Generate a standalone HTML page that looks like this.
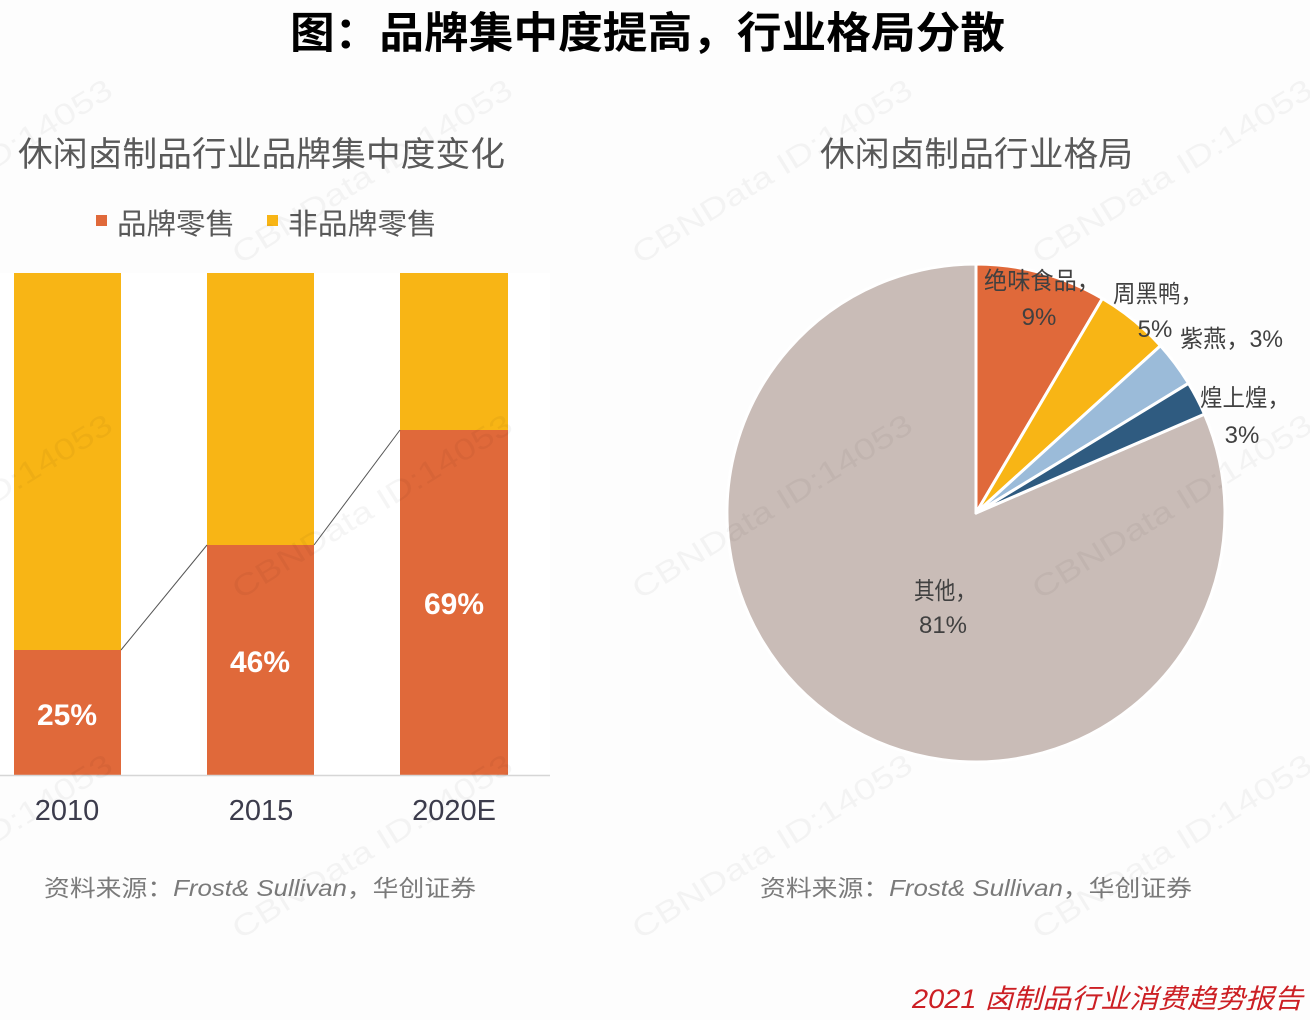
<!DOCTYPE html>
<html>
<head>
<meta charset="utf-8">
<style>
  html, body { margin:0; padding:0; background:#fdfdfd; }
  svg { display:block; }
  .cjk { font-family: "Liberation Sans", "Noto Sans CJK SC", sans-serif; }
</style>
</head>
<body>
<svg width="1310" height="1020" viewBox="0 0 1310 1020" xmlns="http://www.w3.org/2000/svg" class="cjk">
  <rect x="0" y="0" width="1310" height="1020" fill="#fdfdfd"/>

  <!-- Main title -->
  <text x="290" y="48" font-size="43" font-weight="bold" fill="#000" textLength="715" lengthAdjust="spacingAndGlyphs" font-family="'Liberation Sans','Noto Sans CJK SC',sans-serif">图：品牌集中度提高，行业格局分散</text>

  <!-- Left chart title -->
  <text x="18" y="166" font-size="34" fill="#595959" textLength="487" lengthAdjust="spacingAndGlyphs">休闲卤制品行业品牌集中度变化</text>

  <!-- Legend -->
  <rect x="96" y="215" width="11" height="11" fill="#E0693A"/>
  <text x="117" y="234" font-size="29" fill="#595959" textLength="118" lengthAdjust="spacingAndGlyphs">品牌零售</text>
  <rect x="267" y="215" width="11" height="11" fill="#F8B515"/>
  <text x="288" y="234" font-size="29" fill="#595959" textLength="149" lengthAdjust="spacingAndGlyphs">非品牌零售</text>

  <!-- Plot area -->
  <rect x="0" y="273" width="550" height="502" fill="#ffffff"/>

  <!-- Bars -->
  <rect x="14" y="273" width="107" height="377" fill="#F8B515"/>
  <rect x="14" y="650" width="107" height="125" fill="#E0693A"/>
  <rect x="207" y="273" width="107" height="272" fill="#F8B515"/>
  <rect x="207" y="545" width="107" height="230" fill="#E0693A"/>
  <rect x="400" y="273" width="108" height="157" fill="#F8B515"/>
  <rect x="400" y="430" width="108" height="345" fill="#E0693A"/>

  <!-- Connector lines -->
  <line x1="121" y1="650" x2="207" y2="545" stroke="#555" stroke-width="1"/>
  <line x1="314" y1="545" x2="400" y2="430" stroke="#555" stroke-width="1"/>

  <!-- Axis line -->
  <line x1="0" y1="775.5" x2="550" y2="775.5" stroke="#d6d6d6" stroke-width="1.5"/>

  <!-- Bar labels -->
  <g font-family="'Liberation Sans', sans-serif" font-weight="bold" font-size="30" fill="#ffffff" text-anchor="middle">
    <text x="67" y="725">25%</text>
    <text x="260" y="672">46%</text>
    <text x="454" y="614">69%</text>
  </g>

  <!-- X labels -->
  <g font-family="'Liberation Sans', sans-serif" font-size="29" fill="#3c3c4c" text-anchor="middle">
    <text x="67" y="820">2010</text>
    <text x="261" y="820">2015</text>
    <text x="454" y="820">2020E</text>
  </g>

  <!-- Source left -->
  <text x="44" y="896" font-size="23" fill="#7a7a7a" textLength="432" lengthAdjust="spacingAndGlyphs">资料来源：<tspan font-style="italic">Frost&amp; Sullivan</tspan>，华创证券</text>

  <!-- Right chart title -->
  <text x="820" y="166" font-size="34" fill="#595959" textLength="313" lengthAdjust="spacingAndGlyphs">休闲卤制品行业格局</text>

  <!-- Pie -->
  <g stroke="#ffffff" stroke-width="3" stroke-linejoin="round">
    <path d="M976,513 L1204.5,414.1 A249,249 0 1 1 976,264 Z" fill="#C9BCB7"/>
    <path d="M976,513 L976,264 A249,249 0 0 1 1102.4,298.5 Z" fill="#E0693A"/>
    <path d="M976,513 L1102.4,298.5 A249,249 0 0 1 1160.5,345.7 Z" fill="#F8B515"/>
    <path d="M976,513 L1160.5,345.7 A249,249 0 0 1 1188.5,383.3 Z" fill="#9BBBD9"/>
    <path d="M976,513 L1188.5,383.3 A249,249 0 0 1 1204.5,414.1 Z" fill="#2F5B80"/>
  </g>

  <!-- Pie labels -->
  <g font-size="24" fill="#404040">
    <text x="984" y="289" textLength="116" lengthAdjust="spacingAndGlyphs">绝味食品，</text>
    <text x="1039" y="325" text-anchor="middle" font-family="'Liberation Sans', sans-serif">9%</text>
    <text x="1113" y="302" textLength="90" lengthAdjust="spacingAndGlyphs">周黑鸭，</text>
    <text x="1155" y="337" text-anchor="middle" font-family="'Liberation Sans', sans-serif">5%</text>
    <text x="1180" y="347" textLength="103" lengthAdjust="spacingAndGlyphs">紫燕，3%</text>
    <text x="1200" y="406" textLength="90" lengthAdjust="spacingAndGlyphs">煌上煌，</text>
    <text x="1242" y="443" text-anchor="middle" font-family="'Liberation Sans', sans-serif">3%</text>
    <text x="914" y="599" textLength="62" lengthAdjust="spacingAndGlyphs">其他，</text>
    <text x="943" y="633" text-anchor="middle" font-family="'Liberation Sans', sans-serif">81%</text>
  </g>

  <!-- Source right -->
  <text x="760" y="896" font-size="23" fill="#7a7a7a" textLength="432" lengthAdjust="spacingAndGlyphs">资料来源：<tspan font-style="italic">Frost&amp; Sullivan</tspan>，华创证券</text>

  <!-- Red footer -->
  <text x="912" y="1008" font-size="27" font-style="italic" fill="#cc1f24" textLength="391" lengthAdjust="spacingAndGlyphs">2021 卤制品行业消费趋势报告</text>

  <!-- Watermarks -->
  <g font-family="'Liberation Sans', sans-serif" font-size="30" fill="#000" fill-opacity="0.04">
    <text transform="translate(-160,265) rotate(-31.7)" textLength="323" lengthAdjust="spacingAndGlyphs">CBNData ID:14053</text>
    <text transform="translate(240,265) rotate(-31.7)" textLength="323" lengthAdjust="spacingAndGlyphs">CBNData ID:14053</text>
    <text transform="translate(640,265) rotate(-31.7)" textLength="323" lengthAdjust="spacingAndGlyphs">CBNData ID:14053</text>
    <text transform="translate(1040,265) rotate(-31.7)" textLength="323" lengthAdjust="spacingAndGlyphs">CBNData ID:14053</text>
    <text transform="translate(-160,600) rotate(-31.7)" textLength="323" lengthAdjust="spacingAndGlyphs">CBNData ID:14053</text>
    <text transform="translate(240,600) rotate(-31.7)" textLength="323" lengthAdjust="spacingAndGlyphs">CBNData ID:14053</text>
    <text transform="translate(640,600) rotate(-31.7)" textLength="323" lengthAdjust="spacingAndGlyphs">CBNData ID:14053</text>
    <text transform="translate(1040,600) rotate(-31.7)" textLength="323" lengthAdjust="spacingAndGlyphs">CBNData ID:14053</text>
    <text transform="translate(-160,940) rotate(-31.7)" textLength="323" lengthAdjust="spacingAndGlyphs">CBNData ID:14053</text>
    <text transform="translate(240,940) rotate(-31.7)" textLength="323" lengthAdjust="spacingAndGlyphs">CBNData ID:14053</text>
    <text transform="translate(640,940) rotate(-31.7)" textLength="323" lengthAdjust="spacingAndGlyphs">CBNData ID:14053</text>
    <text transform="translate(1040,940) rotate(-31.7)" textLength="323" lengthAdjust="spacingAndGlyphs">CBNData ID:14053</text>
  </g>
</svg>
</body>
</html>
